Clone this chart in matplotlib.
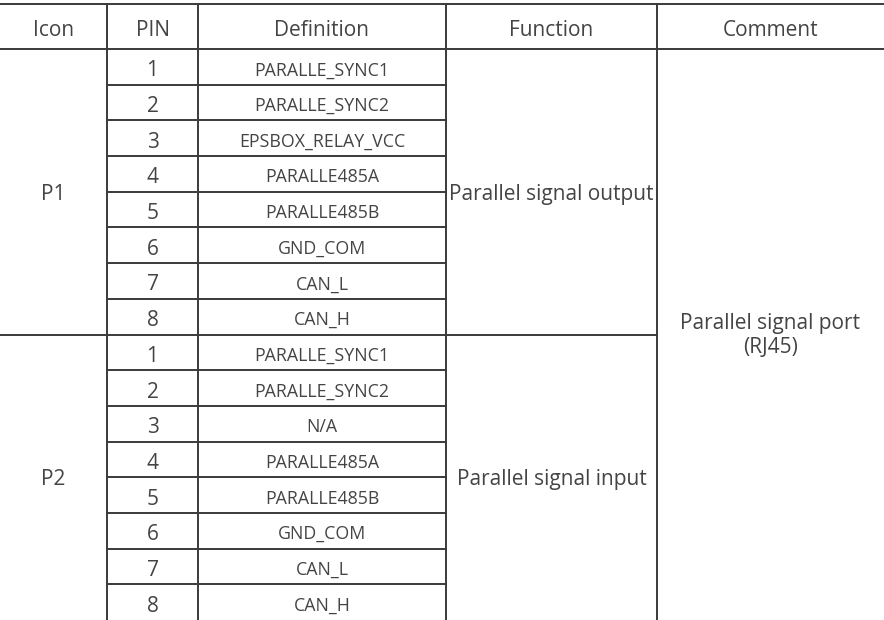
import matplotlib
matplotlib.use("Agg")
import matplotlib.pyplot as plt

headers = ["Icon", "PIN", "Definition", "Function", "Comment"]
icons = ["P1", "P2"]
pins = ["1", "2", "3", "4", "5", "6", "7", "8"]
defs_p1 = ["PARALLE_SYNC1", "PARALLE_SYNC2", "EPSBOX_RELAY_VCC", "PARALLE485A",
           "PARALLE485B", "GND_COM", "CAN_L", "CAN_H"]
defs_p2 = ["PARALLE_SYNC1", "PARALLE_SYNC2", "N/A", "PARALLE485A",
           "PARALLE485B", "GND_COM", "CAN_L", "CAN_H"]
functions = ["Parallel signal output", "Parallel signal input"]
comment = "Parallel signal port\n(RJ45)"

W, H = 884, 620
col_edges = [0, 107, 198, 446, 657, 884]
top, head_bot = 4, 49
n_rows = 16
row_h = (H - head_bot) / n_rows

fig = plt.figure(figsize=(W / 100, H / 100), dpi=100)
ax = fig.add_axes([0, 0, 1, 1])
ax.set_xlim(0, W)
ax.set_ylim(H, 0)
ax.axis("off")

lc = "#3a3a3a"
tc = "#444444"
lw = 1.4
font = "Open Sans"
big = 15
small = 12.8
wt = "normal"
dy = 1.5

# horizontal lines
ax.plot([0, W], [top, top], color=lc, lw=lw)
ax.plot([0, W], [head_bot, head_bot], color=lc, lw=lw)
for r in range(1, n_rows):
    y = head_bot + r * row_h
    if r == 8:
        ax.plot([0, col_edges[4]], [y, y], color=lc, lw=lw)
    else:
        ax.plot([col_edges[1], col_edges[3]], [y, y], color=lc, lw=lw)
# vertical lines
for x in col_edges[1:-1]:
    ax.plot([x, x], [top, H], color=lc, lw=lw)

def cx(i):
    return (col_edges[i] + col_edges[i + 1]) / 2

for i, h in enumerate(headers):
    ax.text(cx(i), (top + head_bot) / 2 + 1, h, ha="center", va="center_baseline",
            fontsize=big, color=tc, family=font, fontweight=wt)

defs = [defs_p1, defs_p2]
for g in range(2):
    y0 = head_bot + g * 8 * row_h
    yc = y0 + 4 * row_h
    ax.text(cx(0), yc, icons[g], ha="center", va="center_baseline", fontsize=big,
            color=tc, family=font, fontweight=wt)
    ax.text(cx(3), yc, functions[g], ha="center", va="center_baseline", fontsize=big,
            color=tc, family=font, fontweight=wt)
    for r in range(8):
        y = y0 + (r + 0.5) * row_h + dy
        ax.text(cx(1), y, pins[r], ha="center", va="center_baseline", fontsize=big,
                color=tc, family=font, fontweight=wt)
        ax.text(cx(2), y, defs[g][r], ha="center", va="center_baseline", fontsize=small,
                color=tc, family=font, fontweight=wt)

ax.text(cx(4), head_bot + 8 * row_h + 1, comment, ha="center", va="center",
        fontsize=big, color=tc, family=font, fontweight=wt, linespacing=1.15)

fig.savefig("out.png", dpi=100)
